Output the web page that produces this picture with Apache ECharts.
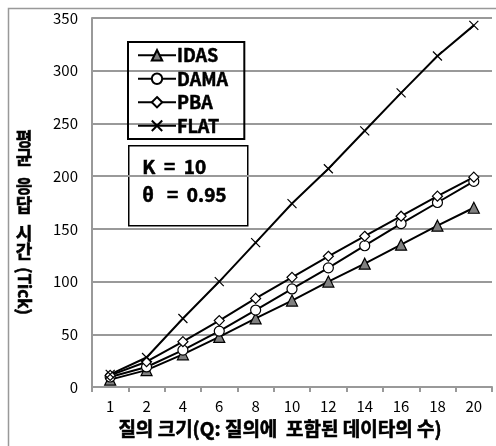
<!DOCTYPE html>
<html>
<head>
<meta charset="utf-8">
<script src="https://cdn.jsdelivr.net/npm/echarts@6/dist/echarts.min.js"></script>
<style>
  html, body { margin: 0; padding: 0; background: #fff; }
  #chart { width: 496px; height: 446px; }
</style>
</head>
<body>
<div id="chart"></div>
<script>
const categories = ['1', '2', '4', '6', '8', '10', '12', '14', '16', '18', '20'];
const idas = [7, 16, 31, 47.5, 65, 82, 100, 117, 135, 153, 170];
const dama = [9.5, 19, 35, 53, 73, 93, 113, 134, 155, 175, 195];
const pba = [11, 24, 43, 63, 84, 104, 124, 143, 162, 181, 199];
const flat = [12, 28, 65, 100, 137, 174, 207, 243, 279, 314, 343];

const font = '"Noto Sans CJK KR", sans-serif';
const crossPath = 'path://M0,0L10,10M10,0L0,10';

function line(name, data, symbol, size, fill) {
    return {
        name: name,
        type: 'line',
        data: data,
        symbol: symbol,
        symbolSize: size,
        lineStyle: { color: '#000', width: 2 },
        itemStyle: { color: fill, borderColor: '#000', borderWidth: 1.2 },
        emphasis: { disabled: true }
    };
}

// y axis title: Korean glyphs stacked upright, "(Tick)" turned clockwise
const yTitleChars = [['평', 139], ['균', 157], ['응', 186], ['답', 205], ['시', 233], ['간', 251]];
const titleStyle = { fill: '#000', font: 'bold 18px ' + font, align: 'center', verticalAlign: 'middle', stroke: '#000', lineWidth: 0.6 };
const yTitle = yTitleChars.map(c => ({ type: 'text', x: 24, y: c[1], style: Object.assign({ text: c[0] }, titleStyle) }));
yTitle.push({ type: 'text', x: 24, y: 291, rotation: -Math.PI / 2, style: Object.assign({}, titleStyle, { text: '(Tick)', font: 'bold 17px ' + font }) });

const chart = echarts.init(document.getElementById('chart'));
chart.setOption({
    animation: false,
    grid: { left: 92, right: 4, top: 18, bottom: 59, outerBoundsMode: 'none' },
    xAxis: {
        type: 'category',
        data: categories,
        boundaryGap: true,
        axisLine: { lineStyle: { color: '#999', width: 2 } },
        axisTick: { show: true, length: 5, lineStyle: { color: '#999', width: 2 } },
        axisLabel: { color: '#000', fontSize: 15, fontFamily: font, margin: 12 }
    },
    yAxis: {
        type: 'value',
        min: 0, max: 350, interval: 50,
        axisLine: { show: true, lineStyle: { color: '#999', width: 2 } },
        axisTick: { show: false },
        splitLine: { lineStyle: { color: '#999', width: 2 } },
        axisLabel: { color: '#000', fontSize: 15, fontFamily: font, margin: 14 }
    },
    legend: {
        orient: 'vertical',
        left: 128, top: 42,
        width: 100,
        padding: [4, 16, 4, 9],
        itemGap: 5,
        itemWidth: 38, itemHeight: 13,
        borderColor: '#000', borderWidth: 2,
        textStyle: { color: '#000', fontSize: 18, fontWeight: 'bold', fontFamily: font, padding: [0, 0, 0, -4], textBorderColor: '#000', textBorderWidth: 0.5 },
        data: ['IDAS', 'DAMA', 'PBA', 'FLAT']
    },
    graphic: [
        { type: 'rect', left: 6, top: 6, shape: { width: 496, height: 446 }, style: { fill: 'none', stroke: '#999', lineWidth: 1.5 } },
        { type: 'rect', left: 128, top: 145, shape: { width: 119, height: 80 }, style: { fill: '#fff', stroke: '#000', lineWidth: 1.5 } },
        { type: 'text', left: 142, top: 157, style: { text: 'K  =  10', fill: '#000', font: 'bold 19px ' + font, stroke: '#000', lineWidth: 0.6 } },
        { type: 'text', left: 142, top: 185, style: { text: 'θ   =  0.95', fill: '#000', font: 'bold 19px ' + font, stroke: '#000', lineWidth: 0.6 } },
        { type: 'text', x: 280, y: 429, style: { text: '질의 크기(Q: 질의에  포함된 데이타의 수)', fill: '#000', font: 'bold 19px ' + font, align: 'center', verticalAlign: 'middle', stroke: '#000', lineWidth: 0.6 } }
    ].concat(yTitle),
    series: [
        line('IDAS', idas, 'triangle', 11, '#808080'),
        line('DAMA', dama, 'circle', 10, '#fff'),
        line('PBA', pba, 'diamond', 10, '#fff'),
        line('FLAT', flat, crossPath, 9, '#000')
    ]
});
</script>
</body>
</html>
